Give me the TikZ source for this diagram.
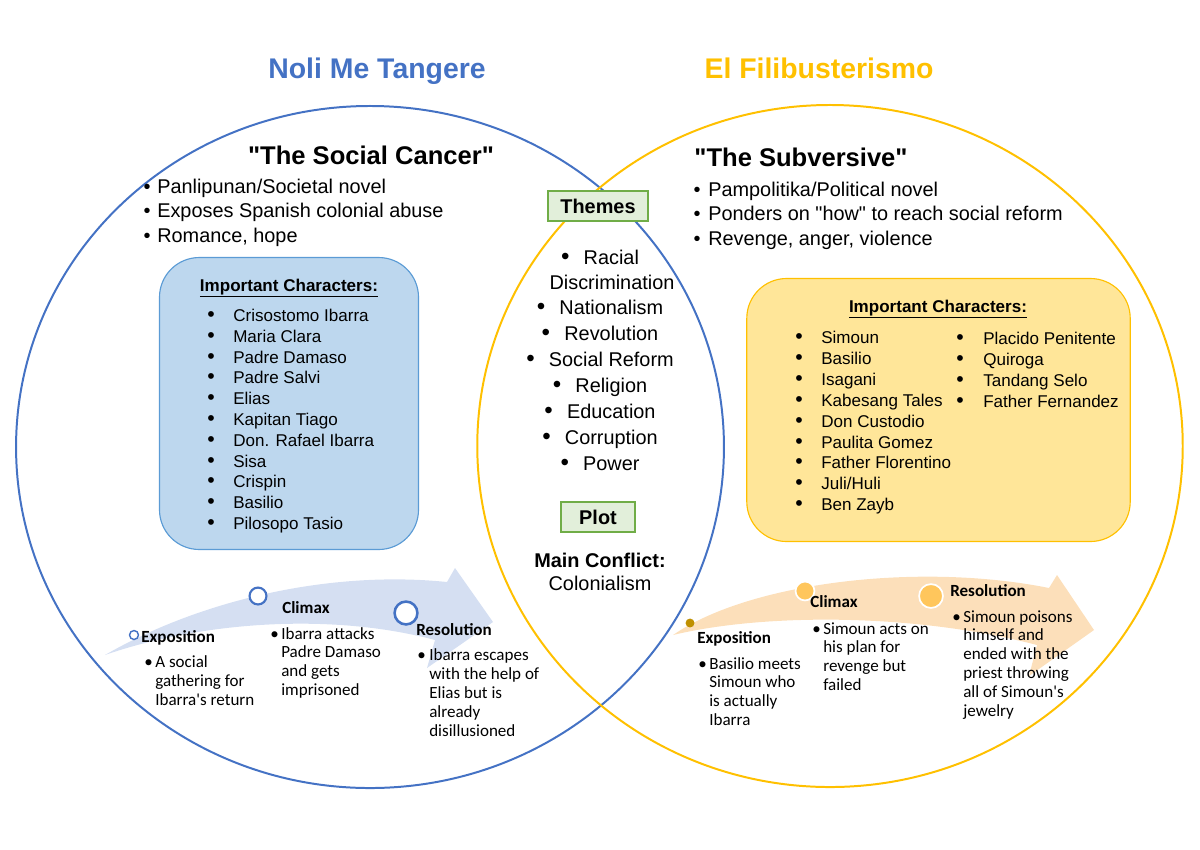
\documentclass[tikz,border=0pt]{standalone}
\usepackage{fontspec}
\setmainfont{Liberation Sans}
\newfontfamily\calibri{Carlito}
\definecolor{noliblue}{HTML}{4472C4}
\definecolor{filigold}{HTML}{FFC000}
\definecolor{boxblue}{HTML}{BDD7EE}
\definecolor{boxblueline}{HTML}{5B9BD5}
\definecolor{boxgold}{HTML}{FFE699}
\definecolor{themefill}{HTML}{E2EFDA}
\definecolor{themeline}{HTML}{70AD47}
\definecolor{arrowblue}{HTML}{D5DFF2}
\definecolor{arroworange}{HTML}{FCDFBA}
\definecolor{dotgold}{HTML}{BF9000}
\definecolor{dotorange}{HTML}{FFC65C}
\newcommand{\bigpip}{{\fontsize{17}{17}\selectfont\textbullet}}

\begin{document}
\begin{tikzpicture}[
x=0.2475mm, y=-0.2475mm,
title/.style={font=\fontsize{20}{24}\selectfont\bfseries, anchor=base},
nick/.style={font=\fontsize{18}{22}\selectfont\bfseries, anchor=base},
pip/.style={font=\fontsize{14}{17}\selectfont, anchor=base, inner sep=0pt},
point/.style={font=\fontsize{14}{17}\selectfont, anchor=base west, inner sep=0pt},
theme/.style={font=\fontsize{14}{17}\selectfont, anchor=base, inner sep=0pt},
tag/.style={draw=themeline, fill=themefill, line width=1.3pt, minimum height=21pt,
  inner sep=0pt, font=\fontsize{14}{17}\selectfont\bfseries},
cast/.style={rounded corners=28pt, line width=0.8pt, inner sep=0pt},
castname/.style={font=\fontsize{12}{14}\selectfont, anchor=base west, inner sep=0pt},
castpip/.style={font=\fontsize{15}{14}\selectfont, anchor=base, inner sep=0pt},
casthead/.style={font=\fontsize{12}{14}\selectfont\bfseries, anchor=base, inner sep=0pt},
stage/.style={font=\calibri\fontsize{12}{14}\selectfont\bfseries, anchor=base west, inner sep=0pt},
note/.style={font=\calibri\fontsize{12}{14}\selectfont, anchor=base west, inner sep=0pt},
milestone/.style={circle, inner sep=0pt}
]
\useasboundingbox (0,0) rectangle (1200,849);

\draw[noliblue, line width=1.4pt] (370,447) ellipse [x radius=87.6mm, y radius=84.4mm];
\draw[filigold, line width=1.4pt] (830,446) ellipse [x radius=87.3mm, y radius=84.4mm];

\node[title, text=noliblue] (noli) at (377,78) {Noli Me Tangere};
\node[title, text=filigold] (fili) at (819,78) {El Filibusterismo};

\node[nick] (cancer) at (371,164) {\textquotedbl The Social Cancer\textquotedbl};
\node[nick] (subversive) at (801,166) {\textquotedbl The Subversive\textquotedbl};

\foreach \txt [count=\i from 0] in {Panlipunan/Societal novel, Exposes Spanish colonial abuse, {Romance, hope}}{
  \node[pip] (nlb-\i) at (147,193+24.5*\i) {\textbullet};
  \node[point] (nl-\i) at (157,193+24.5*\i) {\txt};
}
\foreach \txt [count=\i from 0] in {Pampolitika/Political novel, Ponders on \textquotedbl how\textquotedbl\ to reach social reform, {Revenge, anger, violence}}{
  \node[pip] (flb-\i) at (697,196+24.5*\i) {\textbullet};
  \node[point] (fl-\i) at (708,196+24.5*\i) {\txt};
}

\node[cast, fill=boxblue, draw=boxblueline, minimum width=182.4pt, minimum height=205.6pt] (nolibox) at (289,403.5) {};
\node[cast, fill=boxgold, draw=filigold, minimum width=270pt, minimum height=185.2pt] (filibox) at (938.5,410) {};

\node[casthead] (nolichar) at (289,291) {\underline{Important Characters:}};
\node[casthead] (filichar) at (938,312) {\underline{Important Characters:}};

\foreach \who [count=\i from 0] in {Crisostomo Ibarra, Maria Clara, Padre Damaso, Padre Salvi, Elias,
  Kapitan Tiago, Don. Rafael Ibarra, Sisa, Crispin, Basilio, Pilosopo Tasio}{
  \node[castpip] (ncb-\i) at (211,321.5+20.8*\i) {\textbullet};
  \node[castname] (nc-\i) at (233,321.5+20.8*\i) {\who};
}
\foreach \who [count=\i from 0] in {Simoun, Basilio, Isagani, Kabesang Tales, Don Custodio,
  Paulita Gomez, Father Florentino, Juli/Huli, Ben Zayb}{
  \node[castpip] (fcb-\i) at (799,343.5+20.9*\i) {\textbullet};
  \node[castname] (fc-\i) at (821,343.5+20.9*\i) {\who};
}
\foreach \who [count=\i from 0] in {Placido Penitente, Quiroga, Tandang Selo, Father Fernandez}{
  \node[castpip] (gcb-\i) at (960,344.5+21*\i) {\textbullet};
  \node[castname] (gc-\i) at (983,344.5+21*\i) {\who};
}

\node[tag, minimum width=70pt] (themes) at (598,206) {Themes};
\node[theme] (th-0) at (600,264) {\bigpip\hspace{10pt}Racial};
\node[theme] (th-0b) at (612,289) {Discrimination};
\foreach \th [count=\i] in {Nationalism, Revolution, Social Reform, Religion, Education, Corruption, Power}{
  \node[theme] (th-\i) at (600,289+25.9*\i) {\bigpip\hspace{10pt}\th};
}
\node[tag, minimum width=52.6pt] (plot) at (598,517) {Plot};
\node[theme, font=\fontsize{14}{17}\selectfont\bfseries] (conflict) at (600,567) {Main Conflict:};
\node[theme] (colonial) at (600,590) {Colonialism};

\fill[arrowblue] (105,655) .. controls (200,600) and (330,570) .. (447,582) -- (455,568)
  -- (493,622) -- (427,668) -- (435,640) .. controls (330,612) and (200,622) .. (105,655) -- cycle;
\fill[arroworange] (673,635) .. controls (750,582) and (920,562) .. (1049,588) -- (1057,575)
  -- (1094,630) -- (1029,676) -- (1037,645) .. controls (910,612) and (760,614) .. (673,635) -- cycle;

\node[milestone, fill=white, draw=noliblue, line width=1pt, minimum size=6.3pt] (nexpo) at (134,635) {};
\node[milestone, fill=white, draw=noliblue, line width=1.5pt, minimum size=11.9pt] (nclimax) at (258,596) {};
\node[milestone, fill=white, draw=noliblue, line width=1.8pt, minimum size=16.1pt] (nres) at (406,613) {};
\node[milestone, fill=dotgold, minimum size=6.3pt] (fexpo) at (690,623) {};
\node[milestone, fill=dotorange, draw=white, line width=1.2pt, minimum size=13.3pt] (fclimax) at (805,591) {};
\node[milestone, fill=dotorange, draw=white, line width=1.2pt, minimum size=16.8pt] (fres) at (931,596) {};

\node[stage] (nexpo-t) at (141,642) {Exposition};
\node[stage] (nclimax-t) at (282,613) {Climax};
\node[stage] (nres-t) at (416,635) {Resolution};
\node[stage] (fexpo-t) at (697,643) {Exposition};
\node[stage] (fclimax-t) at (810,607) {Climax};
\node[stage] (fres-t) at (950,596) {Resolution};

\node[note] (nexpo-b) at (144,667) {\textbullet};
\foreach \txt [count=\i from 0] in {A social, gathering for, Ibarra's return}
  \node[note] (nexpo-\i) at (155,667+19*\i) {\txt};
\node[note] (nclimax-b) at (270,639) {\textbullet};
\foreach \txt [count=\i from 0] in {Ibarra attacks, Padre Damaso, and gets, imprisoned}
  \node[note] (nclimax-\i) at (281,639+18.8*\i) {\txt};
\node[note] (nres-b) at (417,660) {\textbullet};
\foreach \txt [count=\i from 0] in {Ibarra escapes, with the help of, Elias but is, already, disillusioned}
  \node[note] (nres-\i) at (429,660+19*\i) {\txt};

\node[note] (fexpo-b) at (698,669) {\textbullet};
\foreach \txt [count=\i from 0] in {Basilio meets, Simoun who, is actually, Ibarra}
  \node[note] (fexpo-\i) at (709,669+18.7*\i) {\txt};
\node[note] (fclimax-b) at (812,634) {\textbullet};
\foreach \txt [count=\i from 0] in {Simoun acts on, his plan for, revenge but, failed}
  \node[note] (fclimax-\i) at (823,634+18.7*\i) {\txt};
\node[note] (fres-b) at (952,622) {\textbullet};
\foreach \txt [count=\i from 0] in {Simoun poisons, himself and, ended with the, priest throwing, all of Simoun's, jewelry}
  \node[note] (fres-\i) at (963,622+18.8*\i) {\txt};
\end{tikzpicture}
\end{document}
